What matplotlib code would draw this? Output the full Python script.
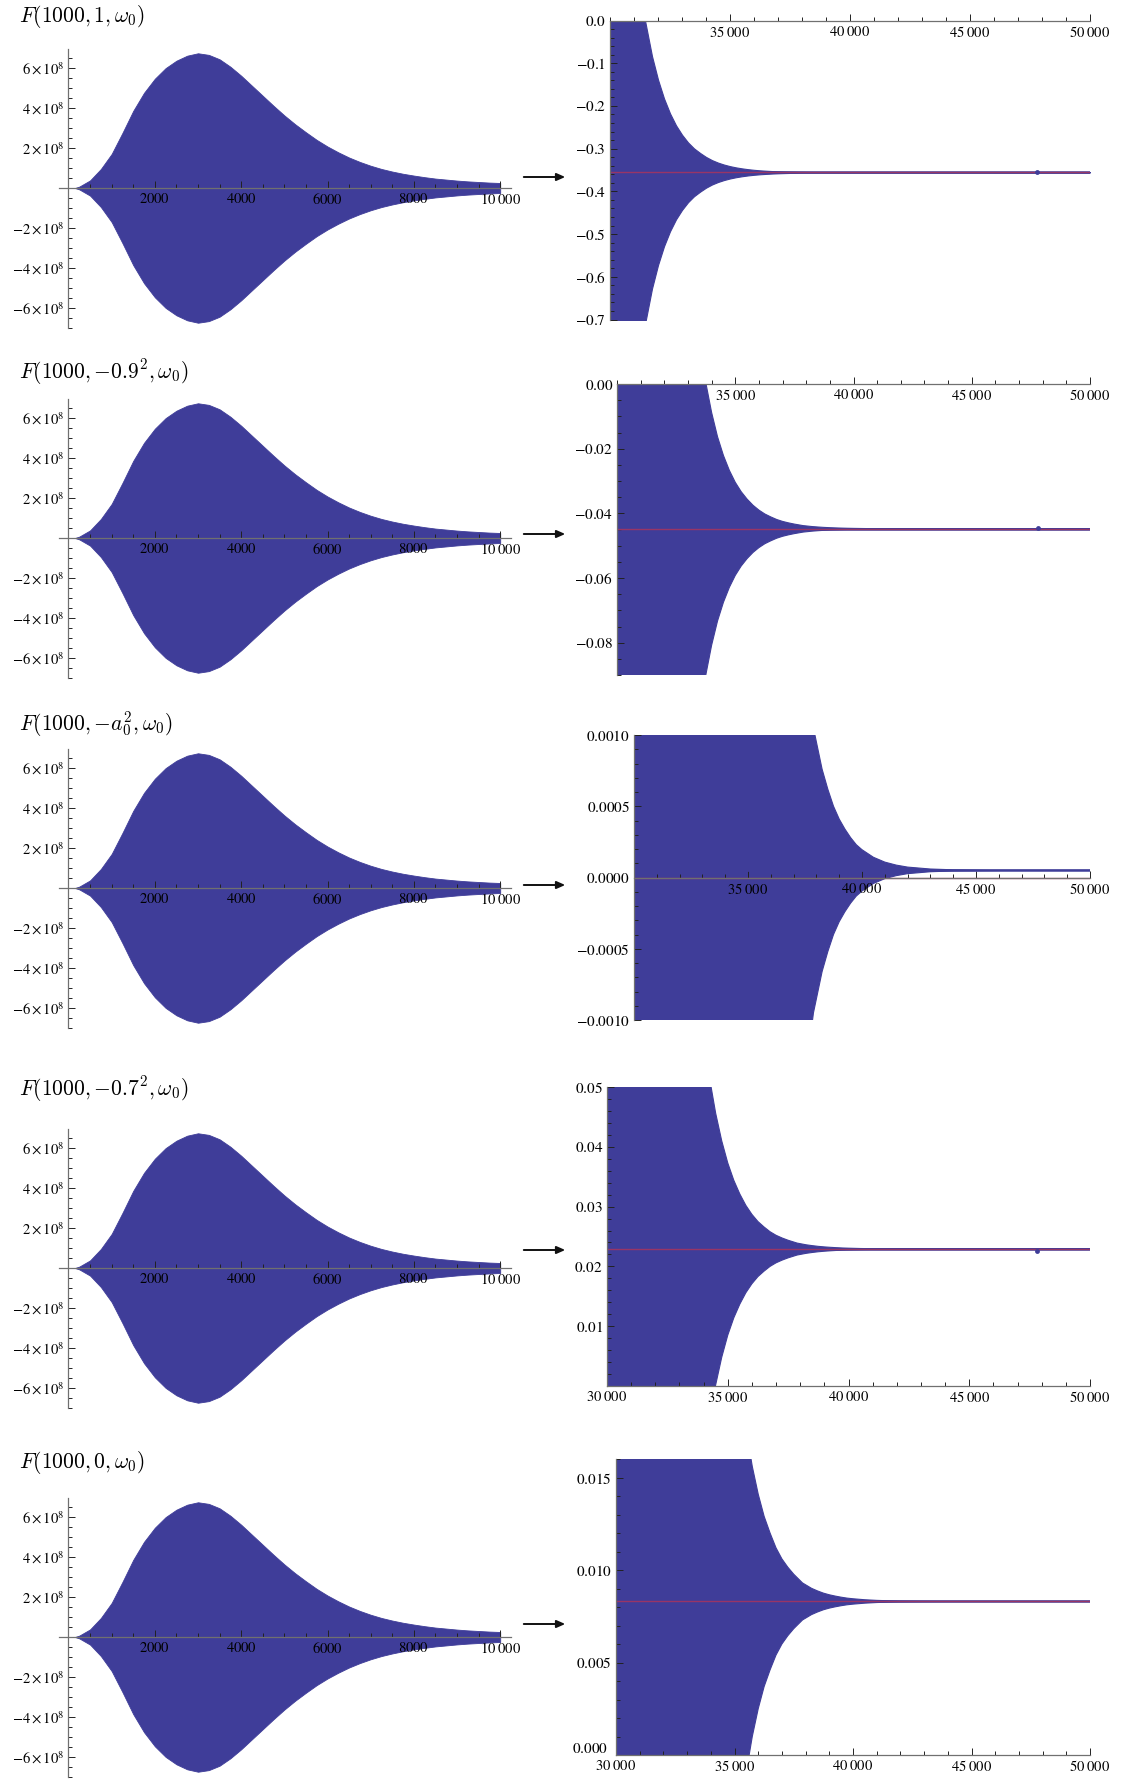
import matplotlib
matplotlib.use("Agg")
import matplotlib.pyplot as plt
from matplotlib.ticker import MultipleLocator, FixedLocator
from matplotlib.patches import FancyArrowPatch

plt.rcParams['font.family'] = ['Liberation Serif', 'DejaVu Serif']
plt.rcParams['mathtext.fontset'] = 'stix'

# ---------------- data ----------------
titles = [r'$F(1000, 1, \omega_0)$',
          r'$F(1000, {-}0.9^2, \omega_0)$',
          r'$F(1000, {-}a_0^2, \omega_0)$',
          r'$F(1000, {-}0.7^2, \omega_0)$',
          r'$F(1000, 0, \omega_0)$']

# envelope (amplitude) of the oscillating function on 0..10000, same in all left panels
env_x = [0, 150, 250, 500, 750, 1000, 1250, 1500, 1750, 2000, 2250, 2500, 2750, 3000,
         3250, 3500, 3750, 4000, 4250, 4500, 4750, 5000, 5250, 5500, 5750, 6000, 6250,
         6500, 6750, 7000, 7250, 7500, 7750, 8000, 8250, 8500, 8750, 9000, 9250, 9500,
         9750, 10000]
env_y = [0.0, 0.0, 0.07e8, 0.38e8, 0.95e8, 1.7e8, 2.75e8, 3.85e8, 4.75e8, 5.45e8, 5.98e8,
         6.35e8, 6.6e8, 6.72e8, 6.64e8, 6.42e8, 6.05e8, 5.6e8, 5.1e8, 4.6e8, 4.1e8,
         3.62e8, 3.18e8, 2.78e8, 2.4e8, 2.07e8, 1.78e8, 1.52e8, 1.3e8, 1.11e8, 0.95e8,
         0.82e8, 0.71e8, 0.62e8, 0.54e8, 0.47e8, 0.42e8, 0.37e8, 0.33e8, 0.3e8, 0.27e8,
         0.25e8]

# half-width of the oscillation band on 30000..50000, same in all right panels
tail_x = [30000, 30250, 30500, 30750, 31000, 31250, 31460, 31750, 32000, 32250, 32500,
          32750, 33000, 33250, 33500, 33760, 34000, 34250, 34500, 34750, 35000, 35250,
          35500, 35750, 36000, 36250, 36500, 36750, 37000, 37250, 37500, 37870, 38250,
          38500, 38750, 39000, 39250, 39500, 39750, 40000, 40500, 41000, 41500, 42000,
          43000, 44000, 46000, 50000]
tail_dev = [1.34, 1.07, 0.85, 0.68, 0.54, 0.43, 0.355, 0.272, 0.217, 0.173, 0.138,
            0.110, 0.088, 0.070, 0.056, 0.045, 0.036, 0.0285, 0.0227, 0.0181, 0.0144,
            0.0115, 0.0092, 0.0073, 0.0058, 0.0046, 0.0037, 0.0029, 0.0023, 0.00185,
            0.00147, 0.00100, 0.00071, 0.00057, 0.00045, 0.00036, 0.00029, 0.00023,
            0.00018, 0.000145, 0.000092, 0.000058, 0.000037, 0.000023, 0.0000095,
            0.000004, 0.0000006, 0.0]

band_center = [-0.3554, -0.0448, 0.00005, 0.0229, 0.0083]
limit_value = [-0.3554, -0.0448, 0.0, 0.0229, 0.0083]
dot_x = 47800
dot_y = [-0.3554, -0.0445, None, 0.02265, None]

right_ylim = [(-0.7, 0.0), (-0.09, 0.0), (-0.001, 0.001), (0.0, 0.05), (0.0, 0.016)]
right_yticks = [[-0.7, -0.6, -0.5, -0.4, -0.3, -0.2, -0.1, 0.0],
                [-0.08, -0.06, -0.04, -0.02, 0.0],
                [-0.001, -0.0005, 0.0, 0.0005, 0.001],
                [0.01, 0.02, 0.03, 0.04, 0.05],
                [0.005, 0.010, 0.015]]
right_ydec = [1, 2, 4, 2, 3]
right_yminor = [0.02, 0.005, 0.0001, 0.002, 0.001]
right_xticks = [[35000, 40000, 45000, 50000]] * 3 + [[30000, 35000, 40000, 45000, 50000]] * 2

left_xticks = [2000, 4000, 6000, 8000, 10000]
left_yticks = [-6e8, -4e8, -2e8, 2e8, 4e8, 6e8]

# ---------------- layout (pixels) ----------------
W, H = 1125, 1779
fig = plt.figure(figsize=(W / 100, H / 100), dpi=100)

BLUE = '#3f3d99'
RED = '#a8345e'
AXC = '#707070'

left_zero = [188, 538, 888, 1268, 1637]
px_per_1e8 = 20.05
left_x0, left_x1 = 59, 511

right_box = [  # (px of x=30000, px of 50000, top px, bottom px)
    (610, 1090, 20.5, 319.5),
    (617, 1090, 384, 675),
    (634, 1090, 735, 1020),
    (607, 1090, 1087, 1386),
    (616, 1090, 1459, 1755),
]
title_y = [16, 372, 724, 1089, 1463]
arrow_y = [177, 534, 885, 1250, 1624]


def add_ax(l, t, r, b):
    return fig.add_axes([l / W, 1 - b / H, (r - l) / W, (b - t) / H])


def fmt_int(v):
    s = f'{int(v)}'
    if len(s) > 4:
        s = s[:-3] + r'\;' + s[-3:]
    return '$' + s + '$'


def style_axes(ax):
    for side in ('top', 'right'):
        ax.spines[side].set_visible(False)
    for side in ('left', 'bottom'):
        ax.spines[side].set_color(AXC)
        ax.spines[side].set_linewidth(0.9)
    ax.tick_params(which='both', direction='in', color='#222222', labelsize=11,
                   width=0.7)
    ax.tick_params(which='major', length=5, pad=3)
    ax.tick_params(which='minor', length=3)
    ax.patch.set_alpha(0)


for i in range(5):
    # ---- left panel ----
    y0 = left_zero[i]
    top = y0 - 6.95 * px_per_1e8
    bot = y0 + 7.0 * px_per_1e8
    ax = add_ax(left_x0, top, left_x1, bot)
    ax.set_xlim(-220, 10250)
    ax.set_ylim(-7.0e8, 6.95e8)
    ax.fill_between(env_x, [-v for v in env_y], env_y, color=BLUE, lw=0.6,
                    edgecolor=BLUE)
    style_axes(ax)
    ax.spines['left'].set_position(('data', 0))
    ax.spines['bottom'].set_position(('data', 0))
    ax.xaxis.set_major_locator(FixedLocator(left_xticks))
    ax.xaxis.set_minor_locator(MultipleLocator(500))
    ax.yaxis.set_major_locator(FixedLocator(left_yticks))
    ax.yaxis.set_minor_locator(MultipleLocator(0.5e8))
    ax.set_xticklabels([fmt_int(v) for v in left_xticks])
    ax.set_yticklabels([rf'${"-" if v < 0 else ""}{abs(int(v / 1e8))}\times 10^8$'
                        for v in left_yticks])
    ax.tick_params(axis='x', labelsize=10.5)
    ax.tick_params(axis='y', labelsize=10.5)

    fig.text(19 / W, 1 - title_y[i] / H, titles[i], fontsize=15.5, ha='left',
             va='center', math_fontfamily='cm')

    # ---- arrow ----
    ay = 1 - arrow_y[i] / H
    fig.add_artist(FancyArrowPatch(
        (521 / W, ay), (568 / W, ay), transform=fig.transFigure,
        arrowstyle='-|>,head_length=5,head_width=2.2', color='#111111', lw=1.4,
        mutation_scale=1))

    # ---- right panel ----
    xl, xr, t, b = right_box[i]
    ax = add_ax(xl, t, xr, b)
    ax.set_xlim(30000, 50000)
    ax.set_ylim(*right_ylim[i])
    c = band_center[i]
    ax.fill_between(tail_x, [c - d for d in tail_dev], [c + d for d in tail_dev],
                    color=BLUE, lw=0.8, edgecolor=BLUE)
    ax.plot(tail_x, [c] * len(tail_x), color=BLUE, lw=1.8, solid_capstyle='butt')
    ax.plot([30000, 50000], [limit_value[i]] * 2, color=RED, lw=1.0, alpha=0.85)
    if dot_y[i] is not None:
        ax.plot([dot_x], [dot_y[i]], 'o', color=BLUE, ms=3.5, mec='none')
    style_axes(ax)
    ax.spines['bottom'].set_position(('data', 0))
    ax.xaxis.set_major_locator(FixedLocator(right_xticks[i]))
    ax.xaxis.set_minor_locator(MultipleLocator(1000))
    ax.set_xticklabels([fmt_int(v) for v in right_xticks[i]])
    ax.tick_params(axis='x', labelsize=10.5)
    ax.yaxis.set_major_locator(FixedLocator(right_yticks[i]))
    ax.yaxis.set_minor_locator(MultipleLocator(right_yminor[i]))
    d = right_ydec[i]
    ax.set_yticklabels([f'${v:.{d}f}$' for v in right_yticks[i]])
    if i == 4:
        # the zero label sits just above the corner, clear of the 30000 label
        ax.annotate(f'${0:.{d}f}$', xy=(0, 0), xycoords='axes fraction',
                    xytext=(-5.5, 4.5), textcoords='offset points', ha='right',
                    va='center', fontsize=11)

fig.savefig('out.png', dpi=100, facecolor='white')
